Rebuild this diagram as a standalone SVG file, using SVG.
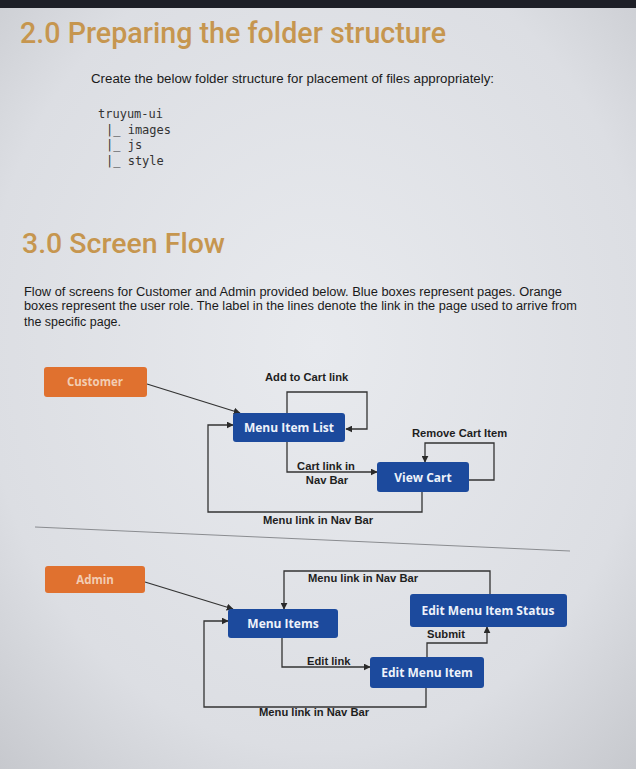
<svg xmlns="http://www.w3.org/2000/svg" width="636" height="769" viewBox="0 0 636 769">
<defs>
<radialGradient id="bg" cx="0.5" cy="0.45" r="0.75">
<stop offset="0" stop-color="#e8eaee"/>
<stop offset="0.7" stop-color="#dcdee3"/>
<stop offset="1" stop-color="#c6c8cd"/>
</radialGradient>
<marker id="ah" viewBox="0 0 10 10" refX="9" refY="5" markerWidth="7" markerHeight="7" markerUnits="userSpaceOnUse" orient="auto">
<path d="M0,0 L10,5 L0,10 z" fill="#2a2a2a"/>
</marker>
<style>
.h{font-family:Roboto,"Liberation Sans",Arial,sans-serif;font-weight:500;fill:#c6964f}
.p{font-family:"Liberation Sans",Arial,sans-serif;font-size:12px;fill:#1a1a1a}
.m{font-family:"DejaVu Sans Mono",monospace;font-size:12px;fill:#333}
.role{fill:#e0712f}
.page{fill:#1c4a9d}
.rt{font-family:"Open Sans","Liberation Sans",sans-serif;font-weight:bold;font-size:11.5px;fill:#f2cdb3;text-anchor:middle}
.pt{font-family:"Open Sans","Liberation Sans",sans-serif;font-weight:bold;font-size:12px;fill:#eef2fa;text-anchor:middle}
.c{fill:none;stroke:#333;stroke-width:1.3}
.l{font-family:"Liberation Sans",Arial,sans-serif;font-weight:bold;font-size:11.2px;fill:#1e1e1e}
</style>
</defs>
<rect width="636" height="769" fill="url(#bg)"/>
<rect width="636" height="8" fill="#1d1f27"/>

<text class="h" x="20" y="43" font-size="30" textLength="426" lengthAdjust="spacingAndGlyphs">2.0 Preparing the folder structure</text>
<text class="p" x="91" y="83" textLength="403" lengthAdjust="spacingAndGlyphs">Create the below folder structure for placement of files appropriately:</text>
<text class="m" x="98" y="118">truyum-ui</text>
<text class="m" x="106" y="134">|_ images</text>
<text class="m" x="106" y="149">|_ js</text>
<text class="m" x="106" y="165">|_ style</text>

<text class="h" x="22" y="253" font-size="27" textLength="203" lengthAdjust="spacingAndGlyphs">3.0 Screen Flow</text>
<text class="p" x="24" y="296" textLength="538" lengthAdjust="spacingAndGlyphs">Flow of screens for Customer and Admin provided below. Blue boxes represent pages. Orange</text>
<text class="p" x="24" y="310" textLength="553" lengthAdjust="spacingAndGlyphs">boxes represent the user role. The label in the lines denote the link in the page used to arrive from</text>
<text class="p" x="24" y="326" textLength="97" lengthAdjust="spacingAndGlyphs">the specific page.</text>

<line x1="35" y1="527" x2="570" y2="551" stroke="#8a8c90" stroke-width="1"/>

<g id="connectors">
<path class="c" d="M147,384 L240,413" marker-end="url(#ah)"/>
<path class="c" d="M287,413 V392 H367 V429 H346" marker-end="url(#ah)"/>
<path class="c" d="M287,442 V472 H377" marker-end="url(#ah)"/>
<path class="c" d="M469,480 H494 V443 H425 V462" marker-end="url(#ah)"/>
<path class="c" d="M422,492 V512 H208 V425 H233" marker-end="url(#ah)"/>
<path class="c" d="M145,582 L233,609" marker-end="url(#ah)"/>
<path class="c" d="M490,594 V571 H284 V609" marker-end="url(#ah)"/>
<path class="c" d="M427,657 V643 H487 V627" marker-end="url(#ah)"/>
<path class="c" d="M282,638 V667 H370" marker-end="url(#ah)"/>
<path class="c" d="M426,688 V707 H204 V621 H228" marker-end="url(#ah)"/>
<text class="l" x="265" y="381">Add to Cart link</text>
<text class="l" x="412" y="437">Remove Cart Item</text>
<text class="l" x="326" y="470" text-anchor="middle">Cart link in</text>
<text class="l" x="327" y="484" text-anchor="middle">Nav Bar</text>
<text class="l" x="263" y="524">Menu link in Nav Bar</text>
<text class="l" x="308" y="582">Menu link in Nav Bar</text>
<text class="l" x="427" y="638">Submit</text>
<text class="l" x="307" y="665">Edit link</text>
<text class="l" x="259" y="716">Menu link in Nav Bar</text>
</g>

<g id="customer"><rect class="role" x="44" y="367" width="103" height="30" rx="3"/><text class="rt" x="95" y="386">Customer</text></g>
<g id="menu-item-list"><rect class="page" x="233" y="413" width="112" height="29" rx="3"/><text class="pt" x="289" y="432">Menu Item List</text></g>
<g id="view-cart"><rect class="page" x="377" y="462" width="92" height="30" rx="3"/><text class="pt" x="423" y="482">View Cart</text></g>
<g id="admin"><rect class="role" x="45" y="566" width="100" height="27" rx="3"/><text class="rt" x="95" y="584">Admin</text></g>
<g id="menu-items"><rect class="page" x="228" y="609" width="110" height="29" rx="3"/><text class="pt" x="283" y="628">Menu Items</text></g>
<g id="edit-menu-item-status"><rect class="page" x="410" y="594" width="157" height="33" rx="3"/><text class="pt" x="488" y="615">Edit Menu Item Status</text></g>
<g id="edit-menu-item"><rect class="page" x="370" y="657" width="114" height="31" rx="3"/><text class="pt" x="427" y="677">Edit Menu Item</text></g>
</svg>
